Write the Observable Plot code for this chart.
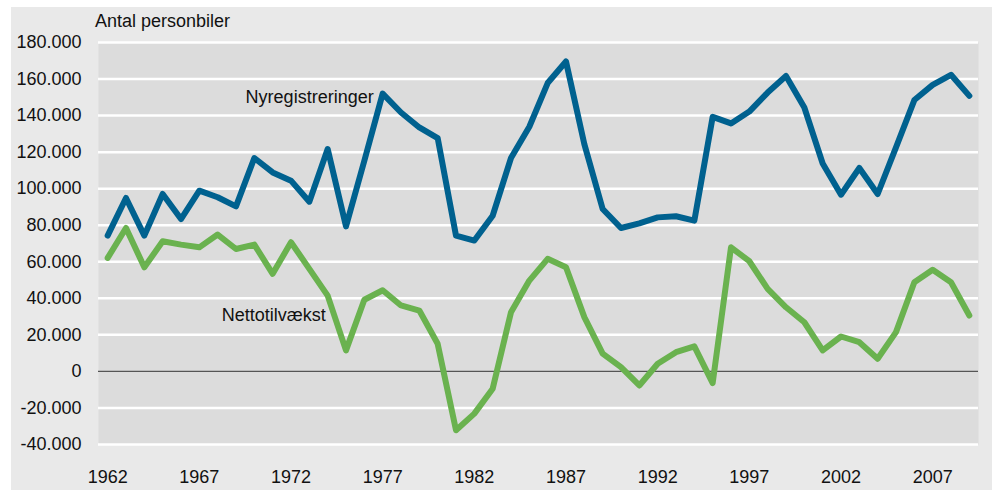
<!DOCTYPE html>
<html>
<head>
<meta charset="utf-8">
<script src="https://cdn.jsdelivr.net/npm/d3@7"></script>
<script src="https://cdn.jsdelivr.net/npm/@observablehq/plot@0.6"></script>
<style>
  html, body { margin: 0; padding: 0; background: #ffffff; }
  #wrap { position: relative; width: 997px; height: 490px; overflow: hidden; font-family: "Liberation Sans", Arial, sans-serif; }
  #panel { position: absolute; left: 11px; top: 7px; width: 981px; height: 483px; background: #e9e9e9; }
  #ytitle { position: absolute; left: 95px; top: 12px; font-size: 18px; line-height: 18px; color: #111; white-space: nowrap; }
  #chart { position: absolute; left: 0; top: 0; }
</style>
</head>
<body>
<div id="wrap">
  <div id="panel"></div>
  <div id="chart"></div>
  <div id="ytitle">Antal personbiler</div>
</div>
<script>
const years = d3.range(1962, 2010);
const nyregistreringer = [
  74300, 94900, 74300, 97100, 83400, 98900, 95300, 90300, 116800, 108900,
  104400, 92900, 121700, 79400, 115300, 152000, 141700, 133500, 127700, 74300,
  71600, 85200, 116800, 133900, 157800, 169600, 124400, 88900, 78500, 81000,
  84300, 84900, 82500, 139300, 135700, 142200, 152600, 161700, 144400, 113800,
  96700, 111300, 97100, 122600, 148500, 156800, 162300, 150800
];
const nettotilvaekst = [
  62100, 78500, 57000, 71200, 69400, 67900, 74900, 67000, 69400, 53400,
  70700, 56100, 41500, 11500, 39200, 44400, 36100, 33300, 15100, -32200,
  -23100, -9500, 32400, 49700, 61600, 57000, 29700, 9700, 2300, -7700,
  4200, 10500, 13700, -6400, 67900, 60300, 45200, 35100, 26900, 11500,
  19100, 16000, 6900, 21500, 48800, 55600, 48800, 30600
];
const seriesNames = ["Nyregistreringer", "Nettotilvækst"];
const yTicks = d3.range(-40000, 180001, 20000);
const xTicks = d3.range(1962, 2008, 5);

const blue = "#00618f";
const green = "#6ab24f";

const rows = [];
years.forEach((yr, i) => {
  rows.push({year: yr, value: nyregistreringer[i], series: seriesNames[0]});
  rows.push({year: yr, value: nettotilvaekst[i], series: seriesNames[1]});
});

const loc = d3.formatLocale({decimal: ",", thousands: ".", grouping: [3], currency: ["", ""], minus: "-"});
const fmt = loc.format(",");

const labelBlue = rows.filter(d => d.series === seriesNames[0] && d.year === 1977);
const labelGreen = rows.filter(d => d.series === seriesNames[1] && d.year === 1974);

const chart = Plot.plot({
  width: 997,
  height: 490,
  marginLeft: 98,
  marginRight: 19,
  marginTop: 42,
  marginBottom: 46,
  style: {background: "transparent", fontFamily: "'Liberation Sans', Arial, sans-serif", fontSize: "18px", color: "#111"},
  x: {domain: [1961.5, 2009.5], ticks: xTicks, tickFormat: d => String(d), tickSize: 0, tickPadding: 26, label: null},
  y: {domain: [-40000, 180000], ticks: yTicks, tickFormat: d => d === 0 ? "0" : fmt(d), tickSize: 0, tickPadding: 17, label: null},
  marks: [
    Plot.frame({fill: "#dcdcdc", stroke: null}),
    Plot.ruleY(yTicks.filter(d => d !== 0), {stroke: "#ffffff", strokeWidth: 2.5}),
    Plot.ruleY([0], {stroke: "#555555", strokeWidth: 1.2}),
    Plot.line(rows, {x: "year", y: "value", z: "series", stroke: "series", strokeWidth: 6, strokeLinejoin: "round", strokeLinecap: "round"}),
    Plot.text(labelBlue, {x: "year", y: "value", text: "series", textAnchor: "end", dx: -9, dy: 4, fontSize: 18, fill: "#111"}),
    Plot.text(labelGreen, {x: "year", y: "value", text: "series", textAnchor: "end", dx: -2, dy: 20, fontSize: 18, fill: "#111"})
  ],
  color: {domain: seriesNames, range: [blue, green]}
});

document.getElementById("chart").appendChild(chart);
</script>
</body>
</html>
